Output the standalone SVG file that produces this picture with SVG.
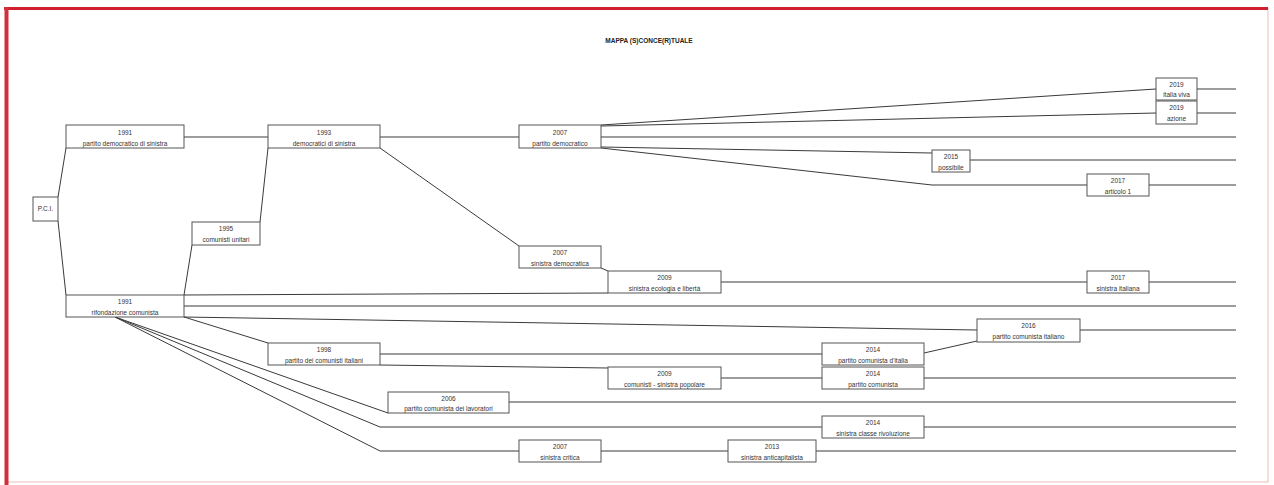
<svg xmlns="http://www.w3.org/2000/svg" width="1274" height="485" viewBox="0 0 1274 485">
<style>
.bx{fill:#fff;stroke:#555;stroke-width:1}
.t{font-family:"Liberation Sans",Arial,sans-serif;font-size:6.5px;fill:#333;text-anchor:middle}
.ttl{font-family:"Liberation Sans",Arial,sans-serif;font-size:6.5px;font-weight:bold;fill:#222;text-anchor:middle}
.c{fill:none;stroke:#3a3a3a;stroke-width:1}
</style>
<rect x="0" y="0" width="1274" height="485" fill="#fff"/>
<g id="frame">
<rect x="6" y="8.5" width="1262" height="473.5" fill="none" stroke="#f2b8b8" stroke-width="1"/>
<line x1="4" y1="8.5" x2="1268" y2="8.5" stroke="#d0202e" stroke-width="3"/>
<line x1="6.5" y1="7" x2="6.5" y2="485" stroke="#d0303c" stroke-width="4"/>
</g>
<text class="ttl" x="649" y="42.5">MAPPA (S)CONCE(R)TUALE</text>
<g id="connectors">
<polyline class="c" points="58,197 66,148"/>
<polyline class="c" points="58,221 66,295"/>
<polyline class="c" points="184,137 268,137"/>
<polyline class="c" points="184,295 192,245"/>
<polyline class="c" points="260,222 268,148"/>
<polyline class="c" points="380,137 519,137"/>
<polyline class="c" points="380,148 519,246"/>
<polyline class="c" points="601,125 1156,89"/>
<polyline class="c" points="601,126 1156,113"/>
<polyline class="c" points="601,137 1236,137"/>
<polyline class="c" points="601,147 932,153"/>
<polyline class="c" points="601,148 932,185 1087,185"/>
<polyline class="c" points="1197,89 1236,89"/>
<polyline class="c" points="1197,113 1236,113"/>
<polyline class="c" points="970,160 1236,160"/>
<polyline class="c" points="1149,185 1236,185"/>
<polyline class="c" points="601,268 608,271"/>
<polyline class="c" points="184,295 608,293"/>
<polyline class="c" points="721,282 1087,282"/>
<polyline class="c" points="1149,282 1236,282"/>
<polyline class="c" points="184,306 1236,306"/>
<polyline class="c" points="184,317 977,330"/>
<polyline class="c" points="1080,330 1236,330"/>
<polyline class="c" points="924,353 977,341"/>
<polyline class="c" points="184,317 268,343"/>
<polyline class="c" points="380,354 822,354"/>
<polyline class="c" points="380,365 608,368"/>
<polyline class="c" points="721,378 822,378"/>
<polyline class="c" points="924,378 1236,378"/>
<polyline class="c" points="115,317 388,413"/>
<polyline class="c" points="509,402 1236,402"/>
<polyline class="c" points="115,317 380,427 822,427"/>
<polyline class="c" points="924,427 1236,427"/>
<polyline class="c" points="115,317 380,451 519,451"/>
<polyline class="c" points="601,451 728,451"/>
<polyline class="c" points="816,451 1236,451"/>
</g>
<g id="pci"><rect class="bx" x="33" y="197" width="25" height="24"/><text class="t" x="45.5" y="211.3">P.C.I.</text></g>
<g id="pds"><rect class="bx" x="66" y="125" width="118" height="23"/><text class="t" x="125" y="134.5">1991</text><text class="t" x="125" y="145.5">partito democratico di sinistra</text></g>
<g id="ds"><rect class="bx" x="268" y="125" width="112" height="23"/><text class="t" x="324" y="134.5">1993</text><text class="t" x="324" y="145.5">democratici di sinistra</text></g>
<g id="pd"><rect class="bx" x="519" y="125" width="82" height="23"/><text class="t" x="560" y="134.5">2007</text><text class="t" x="560" y="145.5">partito democratico</text></g>
<g id="iv"><rect class="bx" x="1156" y="78" width="41" height="22"/><text class="t" x="1176.5" y="87">2019</text><text class="t" x="1176.5" y="97">italia viva</text></g>
<g id="azione"><rect class="bx" x="1156" y="101" width="41" height="23"/><text class="t" x="1176.5" y="110">2019</text><text class="t" x="1176.5" y="121">azione</text></g>
<g id="possibile"><rect class="bx" x="932" y="150" width="38" height="22"/><text class="t" x="951" y="159">2015</text><text class="t" x="951" y="169.5">possibile</text></g>
<g id="art1"><rect class="bx" x="1087" y="174" width="62" height="22"/><text class="t" x="1118" y="183">2017</text><text class="t" x="1118" y="193.5">articolo 1</text></g>
<g id="cu"><rect class="bx" x="192" y="222" width="68" height="23"/><text class="t" x="226" y="231">1995</text><text class="t" x="226" y="242">comunisti unitari</text></g>
<g id="sd"><rect class="bx" x="519" y="246" width="82" height="22"/><text class="t" x="560" y="255">2007</text><text class="t" x="560" y="265.5">sinistra democratica</text></g>
<g id="sel"><rect class="bx" x="608" y="271" width="113" height="22"/><text class="t" x="664.5" y="280">2009</text><text class="t" x="664.5" y="290.5">sinistra ecologia e libertà</text></g>
<g id="si"><rect class="bx" x="1087" y="271" width="62" height="22"/><text class="t" x="1118" y="280">2017</text><text class="t" x="1118" y="290.5">sinistra italiana</text></g>
<g id="rc"><rect class="bx" x="66" y="295" width="118" height="22"/><text class="t" x="125" y="304">1991</text><text class="t" x="125" y="314.5">rifondazione comunista</text></g>
<g id="pci2016"><rect class="bx" x="977" y="319" width="103" height="23"/><text class="t" x="1028.5" y="328">2016</text><text class="t" x="1028.5" y="339">partito comunista italiano</text></g>
<g id="pdci"><rect class="bx" x="268" y="343" width="112" height="22"/><text class="t" x="324" y="352">1998</text><text class="t" x="324" y="362.5">partito dei comunisti italiani</text></g>
<g id="pcdi"><rect class="bx" x="822" y="343" width="102" height="22"/><text class="t" x="873" y="352">2014</text><text class="t" x="873" y="362.5">partito comunista d'italia</text></g>
<g id="csp"><rect class="bx" x="608" y="367" width="113" height="22"/><text class="t" x="664.5" y="376">2009</text><text class="t" x="664.5" y="386.5">comunisti - sinistra popolare</text></g>
<g id="pc"><rect class="bx" x="822" y="367" width="102" height="22"/><text class="t" x="873" y="376">2014</text><text class="t" x="873" y="386.5">partito comunista</text></g>
<g id="pcl"><rect class="bx" x="388" y="392" width="121" height="21"/><text class="t" x="448.5" y="400.5">2006</text><text class="t" x="448.5" y="410.5">partito comunista dei lavoratori</text></g>
<g id="scr"><rect class="bx" x="822" y="416" width="102" height="22"/><text class="t" x="873" y="425">2014</text><text class="t" x="873" y="435.5">sinistra classe rivoluzione</text></g>
<g id="sc"><rect class="bx" x="519" y="440" width="82" height="22"/><text class="t" x="560" y="449">2007</text><text class="t" x="560" y="459.5">sinistra critica</text></g>
<g id="sa"><rect class="bx" x="728" y="440" width="88" height="22"/><text class="t" x="772" y="449">2013</text><text class="t" x="772" y="459.5">sinistra anticapitalista</text></g>
</svg>
